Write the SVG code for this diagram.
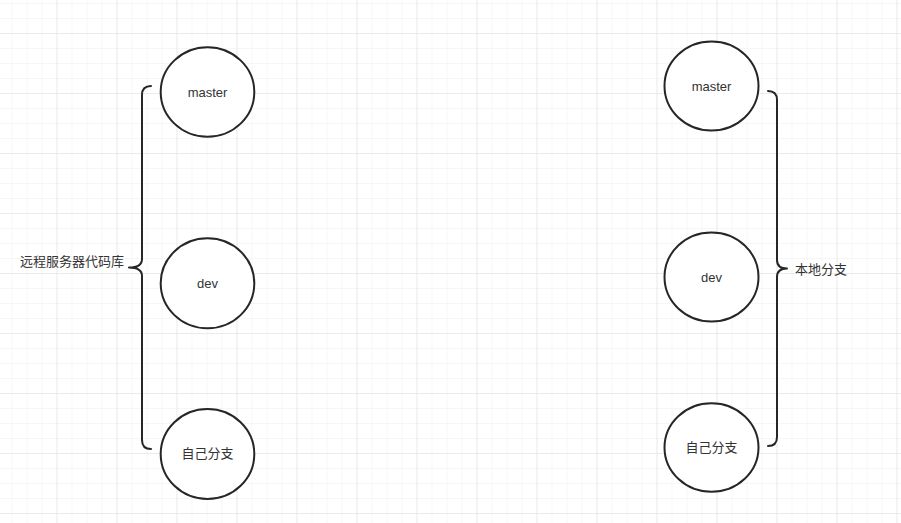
<svg xmlns="http://www.w3.org/2000/svg" width="901" height="523" viewBox="0 0 901 523">
  <defs>
    <pattern id="minor" x="11.5" y="3" width="15" height="15" patternUnits="userSpaceOnUse">
      <path d="M0,0 H15 M0,0 V15" fill="none" stroke="#eeeeee" stroke-width="1"/>
    </pattern>
    <pattern id="major" x="56.5" y="33" width="60" height="60" patternUnits="userSpaceOnUse">
      <path d="M0,0 H60 M0,0 V60" fill="none" stroke="#e0e0e0" stroke-width="1"/>
    </pattern>
  </defs>
  <style>
    .node ellipse { fill: #ffffff; stroke: #262626; stroke-width: 2; }
    .lbl { font-family: "Liberation Sans", "Noto Sans CJK SC", sans-serif; font-size: 13px; fill: #333333; text-anchor: middle; dominant-baseline: central; }
    .side { font-family: "Liberation Sans", "Noto Sans CJK SC", sans-serif; font-size: 13px; fill: #333333; dominant-baseline: central; }
    .brace { fill: none; stroke: #262626; stroke-width: 2; stroke-linecap: round; stroke-linejoin: round; }
  </style>
  <rect width="901" height="523" fill="#ffffff"/>
  <rect width="901" height="523" fill="url(#minor)"/>
  <rect width="901" height="523" fill="url(#major)"/>

  <g id="connectors">
    <path class="brace" d="M151,86 Q142,86 142,95 L142,259 Q142,267.5 129,267.5 Q142,267.5 142,276 L142,440 Q142,449 151,449"/>
    <path class="brace" d="M768,91 Q777,91 777,100 L777,260 Q777,268.5 787,268.5 Q777,268.5 777,277 L777,437 Q777,446 768,446"/>
  </g>

  <g id="label-remote">
    <text class="side" x="20" y="261">远程服务器代码库</text>
  </g>
  <g id="label-local">
    <text class="side" x="795" y="269">本地分支</text>
  </g>

  <g id="remote-master" class="node">
    <ellipse cx="207.5" cy="92" rx="46.8" ry="44.7"/>
    <text class="lbl" x="207.5" y="92.5">master</text>
  </g>
  <g id="remote-dev" class="node">
    <ellipse cx="207.5" cy="283.3" rx="46.8" ry="45"/>
    <text class="lbl" x="207.5" y="283">dev</text>
  </g>
  <g id="remote-own" class="node">
    <ellipse cx="207.5" cy="454" rx="46.8" ry="45"/>
    <text class="lbl" x="207.5" y="453">自己分支</text>
  </g>

  <g id="local-master" class="node">
    <ellipse cx="711.5" cy="86" rx="47" ry="44.5"/>
    <text class="lbl" x="711.5" y="86.5">master</text>
  </g>
  <g id="local-dev" class="node">
    <ellipse cx="711.5" cy="277" rx="47" ry="44.5"/>
    <text class="lbl" x="711.5" y="277.5">dev</text>
  </g>
  <g id="local-own" class="node">
    <ellipse cx="711.5" cy="447.5" rx="47" ry="44.2"/>
    <text class="lbl" x="711.5" y="447">自己分支</text>
  </g>
</svg>
